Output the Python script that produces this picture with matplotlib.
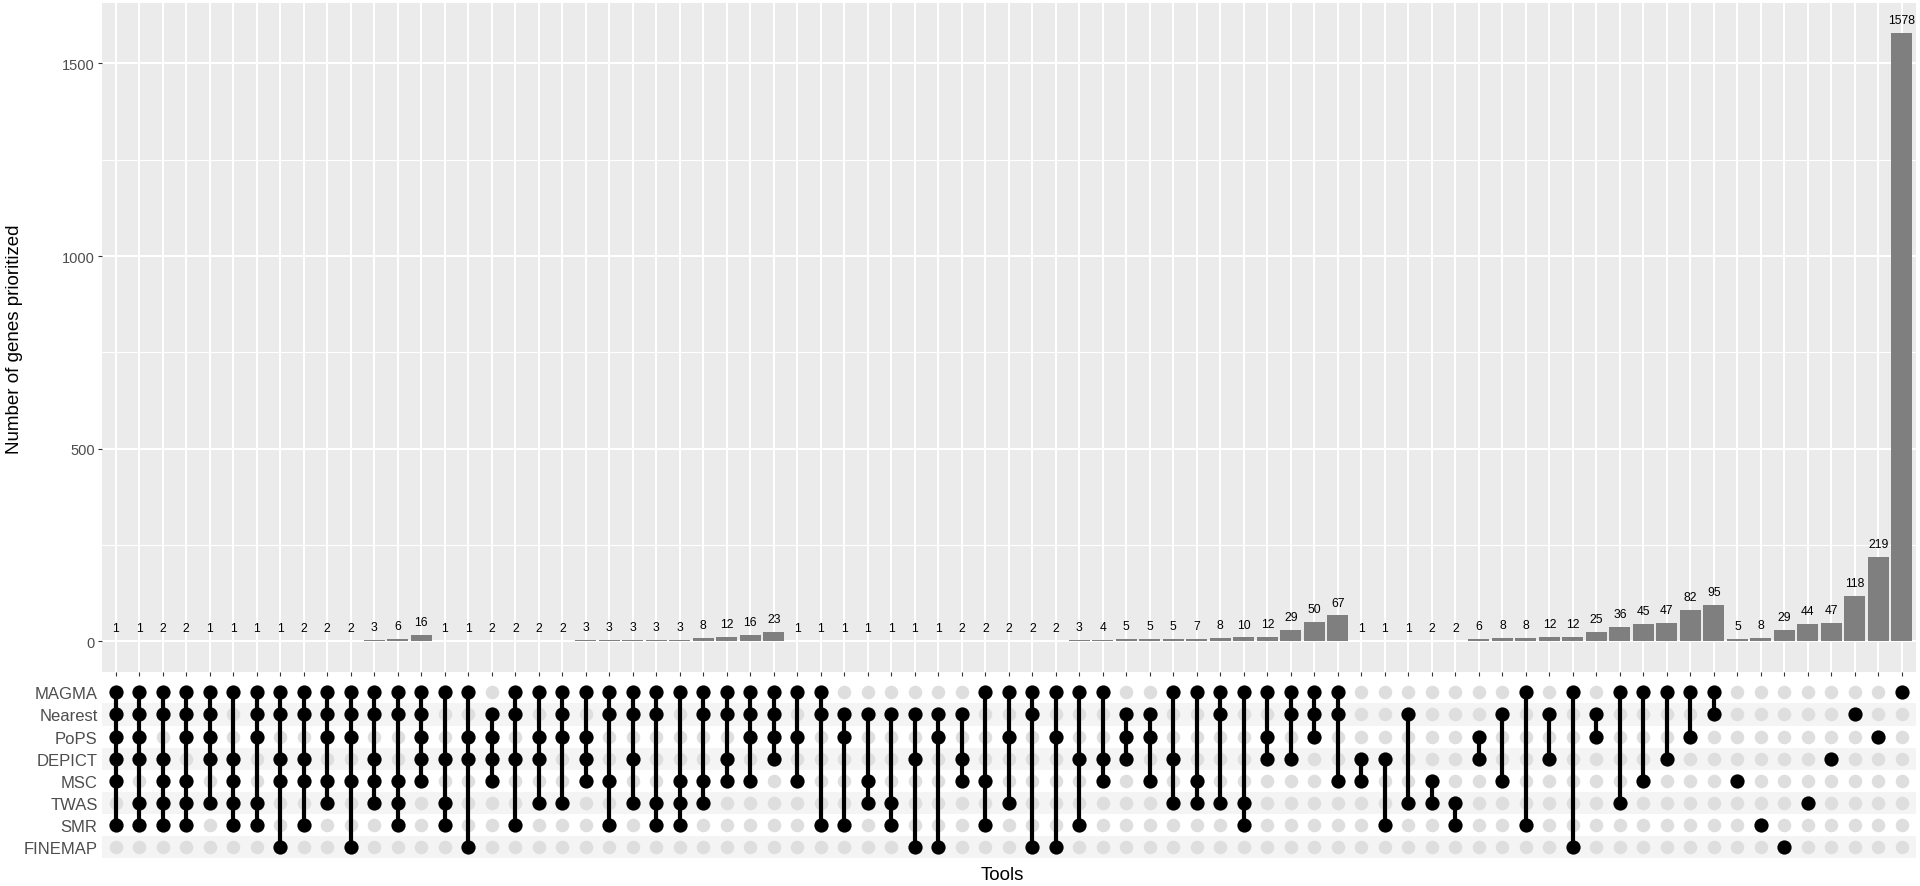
import matplotlib.pyplot as plt

plt.rcParams['font.family'] = ['Liberation Sans', 'DejaVu Sans']

# set order on the matrix rows (top to bottom)
tools = ['MAGMA', 'Nearest', 'PoPS', 'DEPICT', 'MSC', 'TWAS', 'SMR', 'FINEMAP']

# one entry per bar: which tools share the genes
intersections = [
    ['MAGMA', 'Nearest', 'PoPS', 'DEPICT', 'MSC', 'SMR'],
    ['MAGMA', 'Nearest', 'PoPS', 'DEPICT', 'TWAS', 'SMR'],
    ['MAGMA', 'Nearest', 'DEPICT', 'MSC', 'TWAS', 'SMR'],
    ['MAGMA', 'Nearest', 'PoPS', 'MSC', 'TWAS', 'SMR'],
    ['MAGMA', 'Nearest', 'PoPS', 'DEPICT', 'TWAS'],
    ['MAGMA', 'DEPICT', 'MSC', 'TWAS', 'SMR'],
    ['MAGMA', 'Nearest', 'PoPS', 'TWAS', 'SMR'],
    ['MAGMA', 'Nearest', 'DEPICT', 'MSC', 'FINEMAP'],
    ['MAGMA', 'Nearest', 'DEPICT', 'MSC', 'SMR'],
    ['MAGMA', 'Nearest', 'PoPS', 'MSC', 'TWAS'],
    ['MAGMA', 'Nearest', 'PoPS', 'MSC', 'FINEMAP'],
    ['MAGMA', 'Nearest', 'DEPICT', 'MSC', 'TWAS'],
    ['MAGMA', 'Nearest', 'MSC', 'TWAS', 'SMR'],
    ['MAGMA', 'Nearest', 'PoPS', 'DEPICT', 'MSC'],
    # degree 4
    ['MAGMA', 'DEPICT', 'TWAS', 'SMR'],
    ['MAGMA', 'PoPS', 'DEPICT', 'FINEMAP'],
    ['Nearest', 'PoPS', 'DEPICT', 'MSC'],
    ['MAGMA', 'Nearest', 'DEPICT', 'SMR'],
    ['MAGMA', 'PoPS', 'DEPICT', 'TWAS'],
    ['MAGMA', 'Nearest', 'PoPS', 'TWAS'],
    ['MAGMA', 'PoPS', 'DEPICT', 'MSC'],
    ['MAGMA', 'Nearest', 'MSC', 'SMR'],
    ['MAGMA', 'Nearest', 'DEPICT', 'TWAS'],
    ['MAGMA', 'Nearest', 'TWAS', 'SMR'],
    ['MAGMA', 'MSC', 'TWAS', 'SMR'],
    ['MAGMA', 'Nearest', 'MSC', 'TWAS'],
    ['MAGMA', 'Nearest', 'DEPICT', 'MSC'],
    ['MAGMA', 'Nearest', 'PoPS', 'MSC'],
    ['MAGMA', 'Nearest', 'PoPS', 'DEPICT'],
    # degree 3
    ['MAGMA', 'PoPS', 'MSC'],
    ['MAGMA', 'Nearest', 'SMR'],
    ['Nearest', 'PoPS', 'SMR'],
    ['Nearest', 'MSC', 'TWAS'],
    ['Nearest', 'TWAS', 'SMR'],
    ['Nearest', 'DEPICT', 'FINEMAP'],
    ['Nearest', 'PoPS', 'FINEMAP'],
    ['Nearest', 'DEPICT', 'MSC'],
    ['MAGMA', 'MSC', 'SMR'],
    ['MAGMA', 'PoPS', 'TWAS'],
    ['MAGMA', 'Nearest', 'FINEMAP'],
    ['MAGMA', 'PoPS', 'FINEMAP'],
    ['MAGMA', 'DEPICT', 'SMR'],
    ['MAGMA', 'DEPICT', 'MSC'],
    ['Nearest', 'PoPS', 'DEPICT'],
    ['Nearest', 'PoPS', 'MSC'],
    ['MAGMA', 'DEPICT', 'TWAS'],
    ['MAGMA', 'MSC', 'TWAS'],
    ['MAGMA', 'Nearest', 'TWAS'],
    ['MAGMA', 'TWAS', 'SMR'],
    ['MAGMA', 'PoPS', 'DEPICT'],
    ['MAGMA', 'Nearest', 'DEPICT'],
    ['MAGMA', 'Nearest', 'PoPS'],
    ['MAGMA', 'Nearest', 'MSC'],
    # degree 2
    ['DEPICT', 'MSC'],
    ['DEPICT', 'SMR'],
    ['Nearest', 'TWAS'],
    ['MSC', 'TWAS'],
    ['TWAS', 'SMR'],
    ['PoPS', 'DEPICT'],
    ['Nearest', 'MSC'],
    ['MAGMA', 'SMR'],
    ['Nearest', 'DEPICT'],
    ['MAGMA', 'FINEMAP'],
    ['Nearest', 'PoPS'],
    ['MAGMA', 'TWAS'],
    ['MAGMA', 'MSC'],
    ['MAGMA', 'DEPICT'],
    ['MAGMA', 'PoPS'],
    ['MAGMA', 'Nearest'],
    # single tool
    ['MSC'],
    ['SMR'],
    ['FINEMAP'],
    ['TWAS'],
    ['DEPICT'],
    ['Nearest'],
    ['PoPS'],
    ['MAGMA'],
]

counts = [1, 1, 2, 2, 1, 1, 1, 1, 2, 2, 2, 3, 6, 16,
          1, 1, 2, 2, 2, 2, 3, 3, 3, 3, 3, 8, 12, 16, 23,
          1, 1, 1, 1, 1, 1, 1, 2, 2, 2, 2, 2, 3, 4, 5, 5, 5, 7, 8, 10, 12, 29, 50, 67,
          1, 1, 1, 2, 2, 6, 8, 8, 12, 12, 25, 36, 45, 47, 82, 95,
          5, 8, 29, 44, 47, 118, 219, 1578]

W, H = 1920, 887
fig = plt.figure(figsize=(W / 100, H / 100), dpi=100)

left, right = 101.7, 1916
ax = fig.add_axes([left / W, 1 - 672.7 / H, (right - left) / W, (672.7 - 4) / H])
mx = fig.add_axes([left / W, 1 - 859.4 / H, (right - left) / W, (859.4 - 682.2) / H])

n = len(counts)
xs = list(range(n))

# bars
ax.set_facecolor('#EBEBEB')
ax.bar(xs, counts, width=0.9, color='#7F7F7F', zorder=3)
for i, c in enumerate(counts):
    ax.annotate(str(c), (i, c), xytext=(0, 5), textcoords='offset points',
                ha='center', va='bottom', fontsize=8.7, color='black')
ax.set_xlim(-0.6, n - 0.4)
ax.set_ylim(-78.9, 1656.9)
ax.set_yticks([0, 500, 1000, 1500])
ax.set_yticks([250, 750, 1250], minor=True)
ax.set_xticks(xs)
ax.set_xticklabels([])
ax.grid(which='major', color='white', linewidth=1.5)
ax.grid(which='minor', axis='y', color='white', linewidth=0.8)
ax.set_axisbelow(True)
for s in ax.spines.values():
    s.set_visible(False)
ax.tick_params(axis='y', which='major', labelsize=10.5, labelcolor='#4D4D4D',
               length=3, color='#333333', pad=2)
ax.tick_params(axis='y', which='minor', length=0)
ax.tick_params(axis='x', length=3, color='#333333')
fig.text(15 / W, 1 - 339 / H, 'Number of genes prioritized', rotation=90,
         ha='center', va='center', fontsize=13.5)

# matrix
for r in range(len(tools)):
    if r % 2 == 1:
        mx.axhspan(r - 0.5, r + 0.5, color='#F4F4F4', zorder=0, lw=0)
for i, members in enumerate(intersections):
    rows = [tools.index(t) for t in members]
    empty = [r for r in range(len(tools)) if r not in rows]
    mx.scatter([i] * len(empty), empty, s=95, color='#DEDEDE', zorder=1, linewidths=0)
    mx.plot([i, i], [min(rows), max(rows)], color='black', lw=3, zorder=2,
            solid_capstyle='butt')
    mx.scatter([i] * len(rows), rows, s=105, color='black', zorder=3, linewidths=0)
mx.set_xlim(-0.6, n - 0.4)
mx.set_ylim(len(tools) - 0.5, -0.5)
mx.set_xticks([])
mx.set_yticks(range(len(tools)))
mx.set_yticklabels(tools)
mx.tick_params(axis='y', length=0, labelsize=12, labelcolor='#4D4D4D', pad=3)
for s in mx.spines.values():
    s.set_visible(False)
fig.text(1002 / W, 1 - 876 / H, 'Tools', ha='center', va='center', fontsize=13.5)

plt.savefig('out.png', dpi=100)
